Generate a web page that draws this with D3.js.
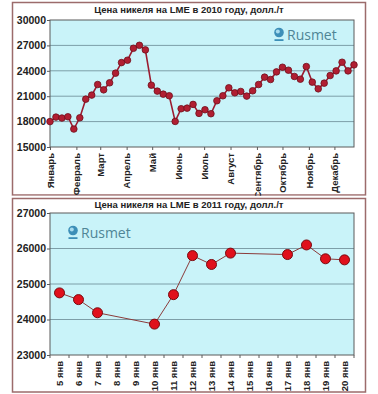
<!DOCTYPE html>
<html>
<head>
<meta charset="utf-8">
<script src="https://cdn.jsdelivr.net/npm/d3@7"></script>
<style>
  body { margin: 0; background: #fff; }
  svg { display: block; font-family: "Liberation Sans", Arial, sans-serif; }
</style>
</head>
<body>
<svg id="chart" width="378" height="394"></svg>
<script>
// 2010: weekly LME nickel prices, $/t
const prices2010 = [
  18000, 18530, 18420, 18570, 17120, 18450, 20650, 21130, 22380, 21750,
  22580, 23720, 24970, 25250, 26660, 27010, 26470, 22300, 21600, 21240,
  21050, 18020, 19520, 19590, 20030, 18970, 19400, 18930, 20460, 21050,
  21990, 21400, 21560, 21010, 21640, 22380, 23250, 22970, 23870, 24420,
  24070, 23330, 23010, 24500, 22660, 21870, 22540, 23440, 23990, 25010,
  23990, 24700
];
const months2010 = ['Январь', 'Февраль', 'Март', 'Апрель', 'Май', 'Июнь',
  'Июль', 'Август', 'Сентябрь', 'Октябрь', 'Ноябрь', 'Декабрь'];
const ticks2010 = [15000, 18000, 21000, 24000, 27000, 30000];

// 2011: daily prices in January, null = no trading
const days2011 = ['5 янв', '6 янв', '7 янв', '8 янв', '9 янв', '10 янв', '11 янв', '12 янв',
  '13 янв', '14 янв', '15 янв', '16 янв', '17 янв', '18 янв', '19 янв', '20 янв'];
const prices2011 = [24750, 24560, 24190, null, null, 23870, 24700, 25800,
  25550, 25870, null, null, 25830, 26100, 25710, 25680];
const ticks2011 = [23000, 24000, 25000, 26000, 27000];

const svg = d3.select('#chart');

function frame(y0, y1) {
  svg.append('rect')
    .attr('x', 12.5).attr('y', y0)
    .attr('width', 353).attr('height', y1 - y0)
    .attr('fill', '#fff')
    .attr('stroke', '#9c6b6b')
    .attr('stroke-width', 1.5);
}

function plotArea(g, x0, x1, y, ticks) {
  g.append('rect')
    .attr('x', x0).attr('y', y.range()[1])
    .attr('width', x1 - x0).attr('height', y.range()[0] - y.range()[1])
    .attr('fill', '#c9f3f9');
  g.append('g').selectAll('line')
    .data(ticks.slice(1, -1))
    .enter().append('line')
    .attr('x1', x0).attr('x2', x1)
    .attr('y1', d => y(d)).attr('y2', d => y(d))
    .attr('stroke', '#7d9ea8')
    .attr('stroke-width', 1);
  g.append('rect')
    .attr('x', x0).attr('y', y.range()[1])
    .attr('width', x1 - x0).attr('height', y.range()[0] - y.range()[1])
    .attr('fill', 'none')
    .attr('stroke', '#5a5a5a')
    .attr('stroke-width', 1);
  g.append('g')
    .attr('transform', `translate(${x0},0)`)
    .call(d3.axisLeft(y).tickValues(ticks).tickSize(3).tickFormat(d3.format('d')))
    .call(a => a.select('.domain').remove())
    .call(a => a.selectAll('line').attr('stroke', '#5a5a5a'))
    .call(a => a.selectAll('text')
      .attr('font-size', '10.5px').attr('font-weight', 'bold').attr('fill', '#222').attr('x', -4));
}

function title(text, y) {
  svg.append('text')
    .attr('x', 189).attr('y', y)
    .attr('text-anchor', 'middle')
    .attr('font-size', '9.5px')
    .attr('font-weight', 'bold')
    .attr('fill', '#222')
    .text(text);
}

function logo(x, y) {
  const lg = svg.append('g').attr('transform', `translate(${x},${y})`);
  lg.append('circle').attr('cx', 0).attr('cy', -5.5).attr('r', 4.8)
    .attr('fill', '#3d8fb8');
  lg.append('circle').attr('cx', -1.2).attr('cy', -6.5).attr('r', 2)
    .attr('fill', '#a8dcef');
  lg.append('rect').attr('x', -4.5).attr('y', 1.2).attr('width', 9).attr('height', 1.8)
    .attr('fill', '#3d8fb8');
  lg.append('text')
    .attr('x', 8).attr('y', 2)
    .attr('font-family', '"Open Sans", sans-serif')
    .attr('font-size', '14px')
    .attr('fill', '#4f8596')
    .text('Rusmet');
}

// ---------- 2010 chart ----------
frame(2.5, 195);
title('Цена никеля на LME в 2010 году, долл./т', 13);

const g1 = svg.append('g');
const start = new Date(2010, 0, 1);
const dates2010 = prices2010.map((_, i) => d3.timeDay.offset(start, i * 7));
const x1 = d3.scaleTime().domain(d3.extent(dates2010)).range([50, 354]);
const y1 = d3.scaleLinear().domain([15000, 30000]).range([147, 20]);

plotArea(g1, 50, 354, y1, ticks2010);
logo(279, 38);

const monthDates = months2010.map((_, m) => new Date(2010, m, 1));
g1.append('g')
  .attr('transform', 'translate(0,147)')
  .call(d3.axisBottom(x1).tickValues(monthDates).tickSize(3)
    .tickFormat((d, i) => months2010[i]))
  .call(a => a.select('.domain').remove())
  .call(a => a.selectAll('line').attr('stroke', '#5a5a5a'))
  .call(a => a.selectAll('text')
    .attr('transform', 'rotate(-90)')
    .attr('text-anchor', 'end')
    .attr('x', -6).attr('y', 0).attr('dy', '0.35em')
    .attr('font-size', '9.5px').attr('font-weight', 'bold').attr('fill', '#222'));

g1.append('path')
  .datum(prices2010)
  .attr('fill', 'none')
  .attr('stroke', '#9b1b30')
  .attr('stroke-width', 1.6)
  .attr('d', d3.line().x((d, i) => x1(dates2010[i])).y(d => y1(d)));

g1.append('g').selectAll('circle')
  .data(prices2010)
  .enter().append('circle')
  .attr('cx', (d, i) => x1(dates2010[i]))
  .attr('cy', d => y1(d))
  .attr('r', 3.3)
  .attr('fill', '#b01e32')
  .attr('stroke', '#6e0f1c')
  .attr('stroke-width', 0.8);

// clip the rotated month labels at the frame bottom
svg.append('rect').attr('x', 12).attr('y', 195.8).attr('width', 355).attr('height', 2.4).attr('fill', '#fff');

// ---------- 2011 chart ----------
frame(198.5, 392);
title('Цена никеля на LME в 2011 году, долл./т', 208);

const g2 = svg.append('g');
const x2 = d3.scaleBand().domain(days2011).range([50, 354]).padding(0);
const y2 = d3.scaleLinear().domain([23000, 27000]).range([355, 213]);

plotArea(g2, 50, 354, y2, ticks2011);
logo(73, 236);

g2.append('g')
  .attr('transform', 'translate(0,355)')
  .call(d3.axisBottom(x2).tickSize(0))
  .call(a => a.select('.domain').remove())
  .call(a => a.selectAll('text')
    .attr('transform', 'rotate(-90)')
    .attr('text-anchor', 'end')
    .attr('x', -6).attr('y', 0).attr('dy', '0.35em')
    .attr('font-size', '9.5px').attr('font-weight', 'bold').attr('fill', '#222'));

// tick marks between categories
g2.append('g').selectAll('line')
  .data(days2011.concat(['end']))
  .enter().append('line')
  .attr('x1', (d, i) => 50 + i * x2.step()).attr('x2', (d, i) => 50 + i * x2.step())
  .attr('y1', 355).attr('y2', 358)
  .attr('stroke', '#5a5a5a');

const pts2011 = days2011.map((d, i) => ({ day: d, v: prices2011[i] })).filter(p => p.v !== null);

g2.append('path')
  .datum(pts2011)
  .attr('fill', 'none')
  .attr('stroke', '#8b3b3b')
  .attr('stroke-width', 1)
  .attr('d', d3.line().x(p => x2(p.day) + x2.bandwidth() / 2).y(p => y2(p.v)));

g2.append('g').selectAll('circle')
  .data(pts2011)
  .enter().append('circle')
  .attr('cx', p => x2(p.day) + x2.bandwidth() / 2)
  .attr('cy', p => y2(p.v))
  .attr('r', 5)
  .attr('fill', '#e0101c')
  .attr('stroke', '#7a0a10')
  .attr('stroke-width', 1);
</script>
</body>
</html>
